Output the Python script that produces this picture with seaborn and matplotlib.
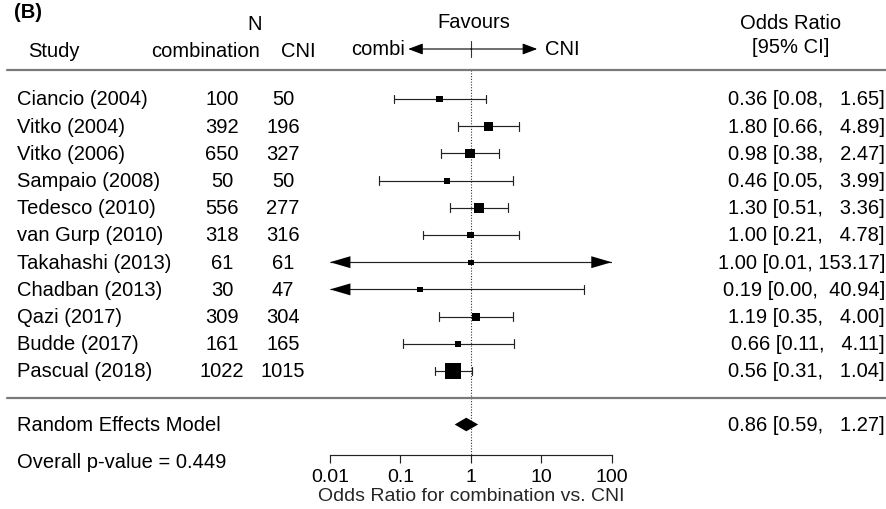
import numpy as np
import pandas as pd
import matplotlib
matplotlib.use("Agg")
import matplotlib.pyplot as plt
import matplotlib.transforms as mtransforms
import seaborn as sns

# ---------------- data ----------------
studies = ["Ciancio (2004)", "Vitko (2004)", "Vitko (2006)", "Sampaio (2008)",
           "Tedesco (2010)", "van Gurp (2010)", "Takahashi (2013)", "Chadban (2013)",
           "Qazi (2017)", "Budde (2017)", "Pascual (2018)"]
n_combination = [100, 392, 650, 50, 556, 318, 61, 30, 309, 161, 1022]
n_cni = [50, 196, 327, 50, 277, 316, 61, 47, 304, 165, 1015]
or_est = [0.36, 1.80, 0.98, 0.46, 1.30, 1.00, 1.00, 0.19, 1.19, 0.66, 0.56]
or_lb = [0.08, 0.66, 0.38, 0.05, 0.51, 0.21, 0.006, 0.004, 0.35, 0.11, 0.31]
or_lb_label = [0.08, 0.66, 0.38, 0.05, 0.51, 0.21, 0.01, 0.00, 0.35, 0.11, 0.31]
or_ub = [1.65, 4.89, 2.47, 3.99, 3.36, 4.78, 153.17, 40.94, 4.00, 4.11, 1.04]
weights = [5.4, 12.3, 14.1, 2.6, 13.9, 5.0, 0.5, 0.4, 8.3, 3.8, 33.7]
re_label = "Random Effects Model"
re_est, re_lb, re_ub = 0.86, 0.59, 1.27
p_value_text = "Overall p-value = 0.449"
xticks = [0.01, 0.1, 1, 10, 100]
xtick_labels = ["0.01", "0.1", "1", "10", "100"]
xlabel = "Odds Ratio for combination vs. CNI"

# ---------------- style ----------------
sns.set_theme(style="white")
plt.rcParams["font.family"] = ["Liberation Sans", "DejaVu Sans"]
FS = 14.5
FS_AX = 14

W, H = 886, 510
fig = plt.figure(figsize=(W / 100, H / 100), dpi=100)

ROW0, ROWH = 100.0, 27.2          # pixel centre of first row, row spacing
def yu(px):                       # pixel y -> row units
    return (px - ROW0) / ROWH

ax_left, ax_right, ax_bottom_px = 330.0, 611.7, 456.0
ax = fig.add_axes([ax_left / W, 1 - ax_bottom_px / H, (ax_right - ax_left) / W, ax_bottom_px / H])
ax.set_xscale("log")
ax.set_xlim(xticks[0], xticks[-1])
ax.set_ylim(yu(ax_bottom_px), yu(0))
ax.patch.set_alpha(0)

rows = np.arange(len(studies))
xmin, xmax = xticks[0], xticks[-1]
line_col = "#222222"
cap = 0.16
ah = 0.22         # arrow half-height (row units)
al = 0.29         # arrow length in decades

# CIs
for y, lb, ub in zip(rows, or_lb, or_ub):
    lo, hi = max(lb, xmin), min(ub, xmax)
    ax.plot([lo, hi], [y, y], color=line_col, lw=0.85, solid_capstyle="butt", zorder=2)
    if lb >= xmin:
        ax.plot([lb, lb], [y - cap, y + cap], color=line_col, lw=0.85, zorder=2)
    else:
        ax.fill([xmin, xmin * 10 ** al, xmin * 10 ** al], [y, y - ah, y + ah], color="black", lw=0, zorder=3)
    if ub <= xmax:
        ax.plot([ub, ub], [y - cap, y + cap], color=line_col, lw=0.85, zorder=2)
    else:
        ax.fill([xmax, xmax / 10 ** al, xmax / 10 ** al], [y, y - ah, y + ah], color="black", lw=0, zorder=3)

# squares (metafor-like sizing: linear in weight, 0.5..1.5)
w = np.array(weights)
psize = (w - w.min()) / (w.max() - w.min()) + 0.5
side_pt = psize * 10.6 * 0.72
df = pd.DataFrame({"or": or_est, "row": rows, "area": side_pt ** 2})
sns.scatterplot(data=df, x="or", y="row", size="area",
                sizes=(df["area"].min(), df["area"].max()),
                size_norm=(df["area"].min(), df["area"].max()),
                marker="s", color="black", linewidth=0, legend=False, ax=ax, zorder=4)

# axis styling (after seaborn)
for s in ["top", "left", "right"]:
    ax.spines[s].set_visible(False)
ax.spines["bottom"].set_color("#222222")
ax.spines["bottom"].set_linewidth(0.85)
ax.set_yticks([])
ax.set_ylabel("")
ax.set_xticks(xticks)
ax.set_xticklabels(xtick_labels, fontsize=FS_AX)
ax.minorticks_off()
ax.tick_params(axis="x", which="major", direction="out", length=6, width=0.85,
               color="#222222", pad=3, labelcolor="black", bottom=True)
ax.set_xlabel(xlabel, fontsize=FS_AX, labelpad=1.5)

blend = mtransforms.blended_transform_factory(fig.transFigure, ax.transData)
def fx(px):
    return px / W

# summary diamond
yre = yu(425.5)
ax.fill([re_lb, re_est, re_ub, re_est], [yre, yre - 0.25, yre, yre + 0.25], color="black", lw=0, zorder=4)

# reference line at 1
ax.plot([1, 1], [yu(71), yu(ax_bottom_px)], color="#333333", lw=0.8, ls=(0, (1, 1.5)), zorder=1)
ax.plot([1, 1], [yu(42), yu(58)], color="#333333", lw=0.8, zorder=1)

# favours arrows
yarr = yu(50)
for tip in (10 ** ((408 - 470.5) / 70.2), 10 ** ((536.7 - 470.5) / 70.2)):
    ax.annotate("", xy=(tip, yarr), xytext=(1, yarr), xycoords="data",
                arrowprops=dict(arrowstyle="-|>,head_length=0.45,head_width=0.17",
                                mutation_scale=20, color="black", lw=0.8,
                                shrinkA=0, shrinkB=0), annotation_clip=False)

# horizontal rules
for ypx in (71, 399):
    ax.plot([fx(7), fx(886)], [yu(ypx), yu(ypx)], transform=blend, clip_on=False,
            color="#7a7a7a", lw=1.6, zorder=1)

def txt(px, ypx, s, ha="left", **kw):
    ax.text(fx(px), yu(ypx), s, transform=blend, ha=ha, va="center",
            fontsize=kw.pop("fontsize", FS), color="black", clip_on=False, **kw)

# headers
txt(14, 13, "(B)", fontweight="bold")
txt(255, 25, "N", ha="center")
txt(474, 23, "Favours", ha="center")
txt(791, 24, "Odds Ratio", ha="center")
txt(791, 48, "[95% CI]", ha="center")
txt(28, 52, "Study")
txt(205, 52, "combination", ha="center")
txt(298, 52, "CNI", ha="center")
txt(405, 50, "combi", ha="right")
txt(545, 50, "CNI")

# rows
for i in range(len(studies)):
    ypx = ROW0 + ROWH * i
    txt(17, ypx, studies[i])
    txt(222, ypx, str(n_combination[i]), ha="center")
    txt(283, ypx, str(n_cni[i]), ha="center")
    txt(885, ypx, f"{or_est[i]:.2f} [{or_lb_label[i]:.2f}, {or_ub[i]:>6.2f}]", ha="right")

txt(17, 425.5, re_label)
txt(885, 425.5, f"{re_est:.2f} [{re_lb:.2f}, {re_ub:>6.2f}]", ha="right")
txt(17, 463, p_value_text)

fig.savefig("out.png", dpi=100)
